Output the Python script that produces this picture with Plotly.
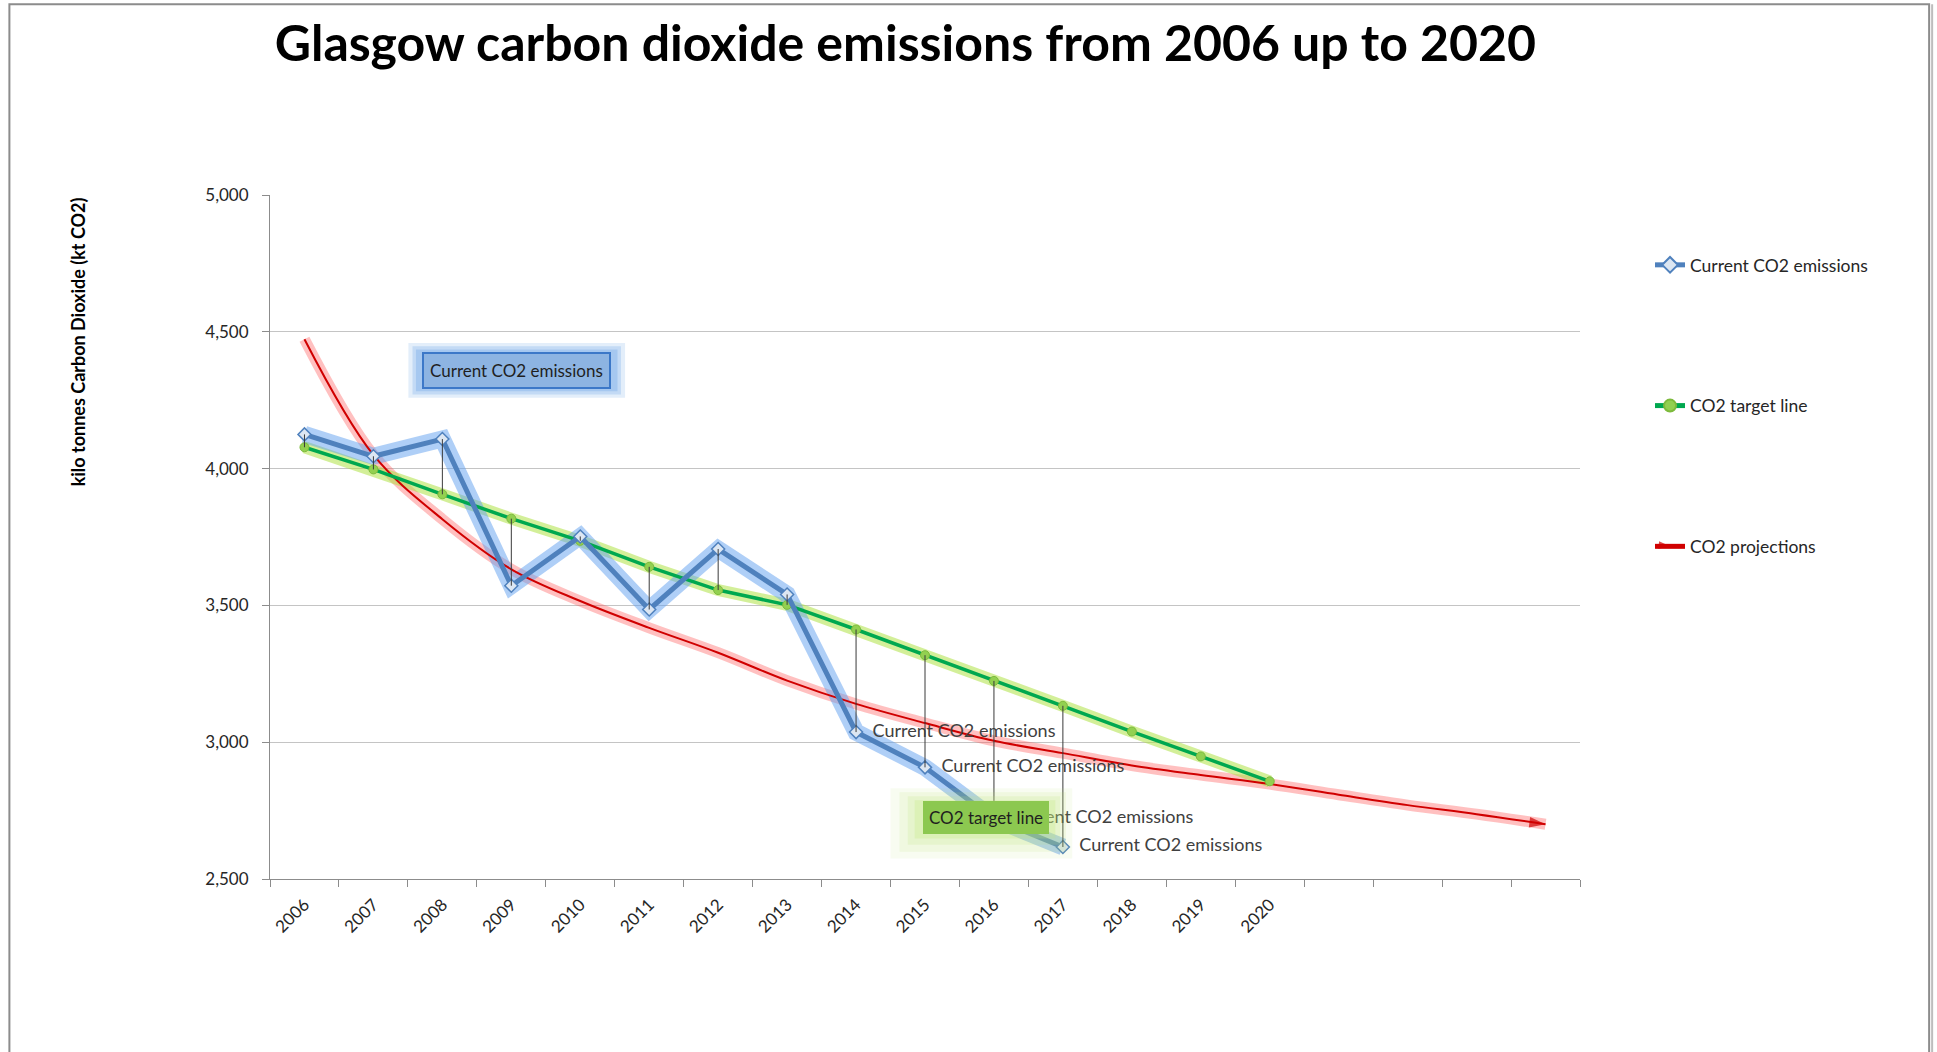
import plotly.graph_objects as go

# ---------------- data ----------------
years = ["2006", "2007", "2008", "2009", "2010", "2011", "2012", "2013",
         "2014", "2015", "2016", "2017", "2018", "2019", "2020"]
n_slots = 19  # 15 labelled years + 4 blank category slots used by the projection arrow

current_co2 = [4125, 4045, 4108, 3572, 3752, 3485, 3706, 3540, 3037, 2908, 2720, 2617]
target_co2 = [4078, 3997, 3906, 3817, 3736, 3641, 3556, 3502, 3412, 3318, 3224, 3133, 3039, 2948, 2857]
projection_co2 = [4473, 4050, 3815, 3632, 3516, 3418, 3327, 3225, 3140, 3070,
                  3005, 2960, 2915, 2880, 2847, 2808, 2770, 2737, 2700]
current_labels = [""] * 8 + ["\u00a0\u00a0Current CO2 emissions"] * 4

y_ticks = [2500, 3000, 3500, 4000, 4500, 5000]

xs_all = list(range(n_slots))
xs_cur = xs_all[:len(current_co2)]
xs_tgt = xs_all[:len(target_co2)]

FONT = "Lato"

fig = go.Figure()

# glows
fig.add_trace(go.Scatter(x=xs_all, y=projection_co2, mode="lines",
                         line=dict(color="rgba(255,90,90,0.38)", width=11, shape="spline", smoothing=1.0),
                         hoverinfo="skip", showlegend=False))
fig.add_trace(go.Scatter(x=xs_tgt, y=target_co2, mode="lines", line=dict(color="rgba(175,225,70,0.55)", width=12),
                         hoverinfo="skip", showlegend=False))
fig.add_trace(go.Scatter(x=xs_cur, y=current_co2, mode="lines", line=dict(color="rgba(95,160,240,0.50)", width=17),
                         hoverinfo="skip", showlegend=False))

# projection (red arrow)
fig.add_trace(go.Scatter(
    x=xs_all, y=projection_co2, mode="lines+markers", name="CO2 projections",
    line=dict(color="#D00000", width=2, shape="spline", smoothing=1.0),
    marker=dict(symbol="arrow", size=[0] * (n_slots - 1) + [17], color="#D00000",
                angleref="up", angle=97, line=dict(width=0)),
    legendgroup="p", legendrank=3))

# target line
fig.add_trace(go.Scatter(
    x=xs_tgt, y=target_co2, mode="lines+markers", name="CO2 target line",
    line=dict(color="#00A84F", width=3.5),
    marker=dict(symbol="circle", size=9, color="#92D050", line=dict(color="#7DBA3C", width=1)),
    legendgroup="t", legendrank=2))

# current emissions
fig.add_trace(go.Scatter(
    x=xs_cur, y=current_co2, mode="lines+markers+text", name="Current CO2 emissions",
    line=dict(color="#4F81BD", width=5),
    marker=dict(symbol="diamond", size=10, color="#DCE6F2", line=dict(color="#4F81BD", width=1.5)),
    text=current_labels, textposition="middle right",
    textfont=dict(family=FONT, size=18, color="#404040"),
    legendgroup="c", legendrank=1))

# high-low lines
hl_x, hl_y = [], []
for i in range(len(current_co2)):
    hl_x += [xs_all[i], xs_all[i], None]
    hl_y += [max(current_co2[i], target_co2[i]), min(current_co2[i], target_co2[i]), None]
fig.add_trace(go.Scatter(x=hl_x, y=hl_y, mode="lines", line=dict(color="#3A3A3A", width=1),
                         hoverinfo="skip", showlegend=False))

# ---------------- glows behind the floating labels ----------------
shapes = []
for pad_x, pad_y, op in [(0.16, 36, 0.18), (0.10, 24, 0.25), (0.05, 12, 0.3)]:
    shapes.append(dict(type="rect", xref="x", yref="y", layer="above",
                       x0=1.667 - pad_x, x1=4.49 + pad_x, y0=4295 - pad_y, y1=4423 + pad_y,
                       fillcolor=f"rgba(100,160,230,{op})", line=dict(width=0)))
for pad_x, pad_y, op in [(0.45, 95, 0.10), (0.32, 70, 0.14), (0.2, 45, 0.18), (0.1, 22, 0.25)]:
    shapes.append(dict(type="rect", xref="x", yref="y", layer="above",
                       x0=8.95 - pad_x, x1=10.82 + pad_x * 0.7, y0=2670 - pad_y, y1=2775 + pad_y * 0.6,
                       fillcolor=f"rgba(190,230,120,{op})", line=dict(width=0)))
# outer frame
shapes.append(dict(type="rect", xref="paper", yref="paper",
                   x0=(10 - 270.5) / 1309.5, x1=(1929 - 270.5) / 1309.5,
                   y0=(879.5 - 1070) / 684.5, y1=(879.5 - 4) / 684.5,
                   line=dict(color="#8C8C8C", width=2), fillcolor="rgba(0,0,0,0)", layer="below"))
shapes.append(dict(type="line", xref="paper", yref="paper",
                   x0=(1932 - 270.5) / 1309.5, x1=(1932 - 270.5) / 1309.5,
                   y0=(879.5 - 1070) / 684.5, y1=(879.5 - 4) / 684.5,
                   line=dict(color="#BDBDBD", width=2), layer="below"))

annotations = [
    dict(x=3.08, y=4359, xref="x", yref="y", text="Current CO2 emissions", showarrow=False,
         font=dict(family=FONT, size=17, color="#1F1F1F"), bgcolor="#8DB4E2",
         bordercolor="#3C78C8", borderwidth=2, borderpad=6),
    dict(x=9.89, y=2726, xref="x", yref="y", text="CO2 target line", showarrow=False,
         font=dict(family=FONT, size=17, color="#1F1F1F"), bgcolor="#8CC850",
         borderwidth=0, borderpad=6),
    dict(x=(78 - 270.5) / 1309.5, y=(879.5 - 342) / 684.5, xref="paper", yref="paper",
         xanchor="center", yanchor="middle",
         text="kilo tonnes Carbon Dioxide (kt CO2)", textangle=-90, showarrow=False,
         font=dict(family=FONT, size=18, color="#000000", weight=700)),
]

fig.update_layout(
    width=1937, height=1052,
    margin=dict(l=270, r=357, t=195, b=173),
    paper_bgcolor="white", plot_bgcolor="white",
    title=dict(text="Glasgow carbon dioxide emissions from 2006 up to 2020",
               x=905.5 / 1937, xref="container", xanchor="center",
               y=1 - 43 / 1052, yref="container", yanchor="middle",
               font=dict(family=FONT, size=50, color="#000000", weight=700)),
    xaxis=dict(range=[-0.5, n_slots - 0.5], tickmode="array",
               tickvals=xs_all[:len(years)], ticktext=years, tickangle=-45,
               ticks="", showgrid=False, zeroline=False,
               showline=True, linecolor="#8C8C8C", linewidth=1,
               tickfont=dict(family=FONT, size=17, color="#262626"), ticklabelstandoff=8,
               minor=dict(tickmode="array", tickvals=[i - 0.5 for i in range(n_slots + 1)],
                          ticks="outside", ticklen=7, tickcolor="#8C8C8C", tickwidth=1, showgrid=False)),
    yaxis=dict(range=[2500, 5000], tickmode="array", tickvals=y_ticks, tickformat=",",
               ticks="outside", ticklen=7, tickcolor="#8C8C8C",
               showgrid=True, gridcolor="#C4C4C4", gridwidth=1, zeroline=False,
               showline=True, linecolor="#8C8C8C", linewidth=1,
               tickfont=dict(family=FONT, size=17, color="#262626"), ticklabelstandoff=10),
    legend=dict(x=(1650 - 270.5) / 1309.5, y=(879.5 - 247) / 684.5, xanchor="left", yanchor="top",
                font=dict(family=FONT, size=17.5, color="#262626"), tracegroupgap=115,
                itemsizing="constant", bgcolor="rgba(0,0,0,0)"),
    shapes=shapes, annotations=annotations,
    showlegend=True,
)

fig.write_html("out.html", config={"displayModeBar": False},
               post_script="document.body.style.margin='0';document.body.style.overflow='hidden';")
